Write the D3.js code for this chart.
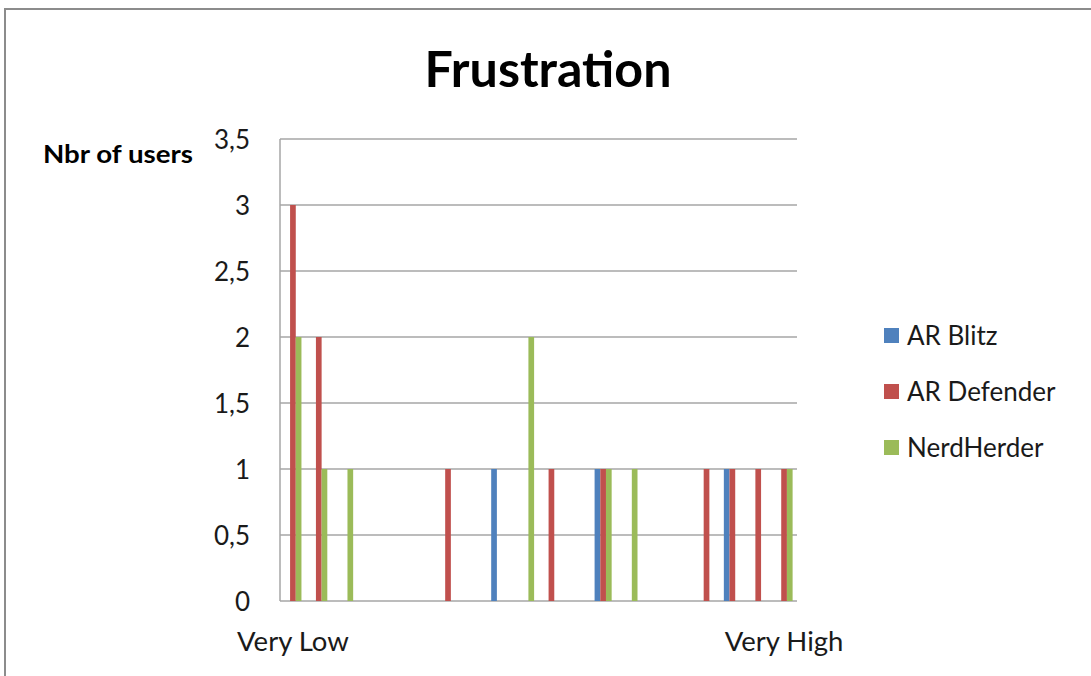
<!DOCTYPE html>
<html><head><meta charset="utf-8">
<script src="https://cdn.jsdelivr.net/npm/d3@7"></script>
<style>body{margin:0;background:#fff;} svg{display:block;}</style>
</head><body>
<svg id="c" width="1091" height="676"></svg>
<script>
const categories = ["1","2","3","4","5","6","7","8","9","10","11","12","13","14","15","16","17","18","19","20"];
const tickLabels = ["Very Low","","","","","","","","","","","","","","","","","","","Very High"];
const series = ["AR Blitz","AR Defender","NerdHerder"];
const arBlitz    = [0,0,0,0,0,0,0,0,1,0,0,0,1,0,0,0,0,1,0,0];
const arDefender = [3,2,0,0,0,0,1,0,0,0,1,0,1,0,0,0,1,1,1,1];
const nerdHerder = [2,1,1,0,0,0,0,0,0,2,0,0,1,1,0,0,0,0,0,1];
const yTicks = [0,0.5,1,1.5,2,2.5,3,3.5];
const colors = ["#4F81BD","#C0504D","#9BBB59"];
const values = [arBlitz, arDefender, nerdHerder];

const svg = d3.select("#c");
const font = "Lato, 'Open Sans', sans-serif";
const L = 280, R = 797, T = 139, B = 601;

svg.append("rect").attr("x",5).attr("y",9).attr("width",1100).attr("height",700)
  .attr("fill","#fff").attr("stroke","#8c8c8c").attr("stroke-width",2);

const x = d3.scaleBand().domain(categories).range([L,R]).paddingInner(0.34).paddingOuter(0.17);
const xs = d3.scaleBand().domain(series).range([0,x.bandwidth()]).padding(0);
const y = d3.scaleLinear().domain([0,3.5]).range([B,T]);

// gridlines
svg.append("g").selectAll("line").data(yTicks).join("line")
  .attr("x1",L).attr("x2",R).attr("y1",d=>y(d)).attr("y2",d=>y(d))
  .attr("stroke","#a6a6a6").attr("stroke-width",1.5);
svg.append("line").attr("x1",L).attr("x2",L).attr("y1",T).attr("y2",B)
  .attr("stroke","#a6a6a6").attr("stroke-width",1.5);

// y axis labels
const yAxis = svg.append("g").attr("transform",`translate(${L-30},0)`)
  .call(d3.axisLeft(y).tickValues(yTicks).tickSize(0).tickPadding(0)
    .tickFormat(d=>String(d).replace(".",",")));
yAxis.select(".domain").remove();
yAxis.selectAll("text").attr("font-family",font).attr("font-size",26).attr("fill","#1a1a1a").attr("dy","0.35em");

// bars
const rows = [];
series.forEach((s,si)=>categories.forEach((c,ci)=>{ if(values[si][ci]>0) rows.push({s,c,v:values[si][ci],col:colors[si]}); }));
svg.append("g").selectAll("rect").data(rows).join("rect")
  .attr("x",d=>x(d.c)+xs(d.s)).attr("width",xs.bandwidth())
  .attr("y",d=>y(d.v)).attr("height",d=>y(0)-y(d.v)).attr("fill",d=>d.col);

// x axis labels
const xAxis = svg.append("g").attr("transform",`translate(0,${B+30})`)
  .call(d3.axisBottom(x).tickSize(0).tickPadding(0).tickFormat((d,i)=>tickLabels[i]));
xAxis.select(".domain").remove();
xAxis.selectAll("text").attr("font-family",font).attr("font-size",27.5).attr("fill","#1a1a1a").attr("dy","0.71em");

// title
svg.append("text").attr("x",548).attr("y",87).attr("text-anchor","middle")
  .attr("font-family",font).attr("font-weight","bold").attr("font-size",50)
  .attr("textLength",247).attr("lengthAdjust","spacingAndGlyphs").text("Frustration");
// y axis title
svg.append("text").attr("x",43).attr("y",163)
  .attr("font-family",font).attr("font-weight","bold").attr("font-size",24)
  .attr("textLength",150).attr("lengthAdjust","spacingAndGlyphs").text("Nbr of users");

// legend
const lg = svg.append("g");
series.forEach((s,i)=>{
  const cy = 336 + i*56;
  lg.append("rect").attr("x",884).attr("y",cy-8).attr("width",15).attr("height",15).attr("fill",colors[i]);
  lg.append("text").attr("x",907).attr("y",cy).attr("dy","0.35em")
    .attr("font-family",font).attr("font-size",26).attr("fill","#1a1a1a").text(s);
});
</script>
</body></html>
